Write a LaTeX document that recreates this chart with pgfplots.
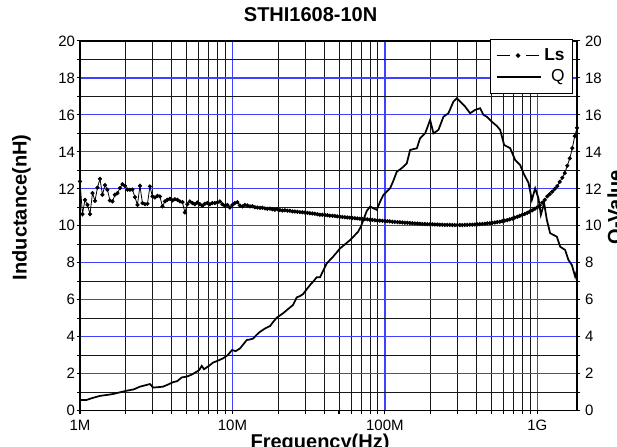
\documentclass[border=0pt]{standalone}
\usepackage{pgfplots}
\pgfplotsset{compat=1.18}
\usepackage{pgfplotstable}
\usepackage{fontspec}
\setmainfont{Liberation Sans}

\definecolor{gridblue}{RGB}{64,64,255}

% frequency in MHz, inductance in nH
\pgfplotstableread{
f L
1.000 12.40
1.038 10.63
1.078 11.40
1.120 11.13
1.163 10.63
1.208 11.77
1.254 11.35
1.302 12.07
1.352 12.54
1.404 11.68
1.458 12.20
1.514 11.95
1.572 11.37
1.633 11.32
1.696 11.68
1.761 11.77
1.828 12.04
1.899 12.25
1.972 12.16
2.048 11.96
2.126 11.95
2.208 11.96
2.293 11.55
2.381 11.13
2.473 12.16
2.568 11.23
2.666 11.17
2.769 11.19
2.875 12.13
2.986 11.59
3.101 11.53
3.220 11.62
3.344 11.59
3.472 11.05
3.606 11.32
3.744 11.41
3.888 11.46
4.038 11.37
4.193 11.44
4.354 11.41
4.522 11.32
4.696 11.28
4.876 10.72
5.064 11.17
5.258 11.32
5.461 11.23
5.671 11.17
5.889 11.26
6.115 11.17
6.350 11.08
6.595 11.19
6.848 11.23
7.112 11.17
7.385 11.23
7.669 11.23
7.964 11.26
8.270 11.32
8.588 11.17
8.919 11.08
9.262 11.13
9.618 10.99
9.988 11.13
10.37 11.23
10.77 11.28
11.19 11.10
11.62 11.05
12.07 11.13
12.53 11.10
13.02 11.05
13.52 11.06
14.04 11.00
14.58 10.99
15.14 10.97
15.72 10.98
16.33 10.94
16.96 10.92
17.61 10.93
18.28 10.89
18.99 10.87
19.72 10.90
20.48 10.85
21.26 10.83
22.08 10.84
22.93 10.82
23.81 10.81
24.73 10.78
25.68 10.77
26.66 10.76
27.69 10.74
28.75 10.73
29.86 10.72
31.01 10.70
32.20 10.68
33.44 10.67
34.72 10.65
36.06 10.63
37.44 10.60
38.88 10.60
40.38 10.58
41.93 10.57
43.54 10.55
45.22 10.54
46.96 10.53
48.76 10.51
50.64 10.49
52.58 10.48
54.61 10.46
56.71 10.45
58.89 10.44
61.15 10.42
63.50 10.41
65.95 10.40
68.48 10.38
71.12 10.37
73.85 10.36
76.69 10.35
79.64 10.33
82.70 10.32
85.88 10.30
89.19 10.29
92.62 10.28
96.18 10.27
99.88 10.26
103.7 10.25
107.7 10.24
111.9 10.22
116.2 10.21
120.8 10.20
125.4 10.19
130.2 10.18
135.2 10.17
140.4 10.16
145.8 10.15
151.4 10.14
157.2 10.13
163.3 10.12
169.6 10.11
176.1 10.10
182.8 10.10
189.9 10.09
197.2 10.08
204.8 10.08
212.6 10.07
220.8 10.07
229.3 10.06
238.1 10.06
247.3 10.05
256.8 10.05
266.6 10.05
276.9 10.04
287.5 10.04
298.6 10.04
310.1 10.04
322.0 10.04
334.4 10.05
347.2 10.05
360.6 10.06
374.4 10.06
388.8 10.07
403.8 10.08
419.3 10.09
435.4 10.10
452.2 10.11
469.6 10.13
487.6 10.14
506.4 10.16
525.8 10.18
546.1 10.20
567.1 10.22
588.9 10.25
611.5 10.28
635.0 10.31
659.5 10.35
684.8 10.39
711.2 10.44
738.5 10.49
766.9 10.54
796.4 10.59
827.0 10.64
858.8 10.70
891.9 10.77
926.2 10.84
961.8 10.92
998.8 11.00
1037 11.10
1077 11.25
1119 11.40
1162 11.60
1206 11.72
1253 11.85
1301 12.00
1351 12.15
1403 12.38
1457 12.60
1513 12.85
1571 13.25
1632 13.65
1695 14.20
1760 14.85
1820 15.30
}\lsdata

% frequency in MHz, Q value
\pgfplotstableread{
f Q
1.000 0.58
1.106 0.58
1.200 0.68
1.353 0.80
1.500 0.85
1.646 0.90
1.800 0.98
2.025 1.08
2.250 1.15
2.476 1.30
2.700 1.38
2.880 1.44
3.013 1.25
3.250 1.27
3.504 1.30
3.800 1.42
4.076 1.54
4.350 1.60
4.648 1.80
5.013 1.84
5.400 1.95
5.832 2.11
6.050 2.20
6.289 2.42
6.510 2.24
7.000 2.42
7.459 2.60
8.000 2.70
8.677 2.83
9.300 3.00
9.940 3.28
10.50 3.22
11.22 3.37
12.41 3.82
13.00 3.85
13.65 3.90
14.40 4.10
15.18 4.27
16.40 4.45
17.65 4.58
18.50 4.80
19.53 5.03
21.48 5.27
23.20 5.50
24.98 5.72
26.42 6.13
27.77 6.20
29.07 6.31
30.60 6.55
32.30 6.80
34.00 7.00
35.74 7.22
37.57 7.22
39.50 7.60
41.57 7.97
43.60 8.15
45.73 8.33
48.20 8.55
50.82 8.78
54.80 9.00
59.12 9.23
62.80 9.45
66.71 9.68
69.50 9.95
72.27 10.32
76.00 10.80
79.97 11.04
84.00 10.95
88.48 10.86
92.90 11.30
97.77 11.67
102.8 11.85
108.2 12.03
113.8 12.45
119.7 12.93
125.8 13.05
132.3 13.20
139.2 13.38
146.3 14.10
154.0 14.15
162.0 14.19
170.2 14.74
183.6 15.00
190.5 15.35
198.0 15.73
208.2 15.00
224.5 15.19
242.1 15.90
261.0 16.09
281.5 16.72
296.3 16.90
311.4 16.72
335.9 16.45
362.2 16.09
390.7 16.27
421.3 16.36
443.0 16.00
466.3 15.90
502.9 15.63
542.4 15.40
570.1 15.19
605.6 14.37
663.1 14.20
715.0 13.56
771.3 13.29
810.7 12.84
874.3 12.33
920.3 11.40
967.3 12.03
1017 11.49
1054 10.59
1108 11.22
1154 10.32
1213 9.60
1343 9.41
1411 8.87
1522 8.69
1600 8.15
1684 7.88
1770 7.25
1820 7.60
}\qdata

\begin{document}
\begin{tikzpicture}
\begin{axis}[
  scale only axis, width=372.75pt, height=277.3pt,
  xmode=log, xmin=1, xmax=1820, ymin=0, ymax=20,
  ytick={0,2,...,20}, minor ytick={1,3,...,19},
  tick align=outside,
  major tick length=2.5pt, minor tick length=2.5pt,
  tick style={black, line width=0.8pt},
  axis line style={line width=1.1pt},
  /pgf/number format/assume math mode=true,
  tick label style={font=\fontsize{11.25}{13}\selectfont},
  xtick={1,10,100,1000}, xticklabels={1M,10M,100M,1G},
  minor xtick={2,3,4,5,6,7,8,9,20,30,40,50,60,70,80,90,200,300,400,500,600,700,800,900},
  ytick pos=left, xtick pos=bottom,
  xticklabel style={inner sep=0pt, yshift=-4.5pt},
  yticklabel style={inner sep=1pt},
  grid=both,
  major grid style={gridblue, line width=0.9pt},
  minor grid style={black!90, line width=0.75pt},
  title={STHI1608-10N},
  title style={at={(0.464,1.0317)}, anchor=base, font=\bfseries\fontsize{15}{18}\selectfont},
  xlabel={Frequency(Hz)},
  xlabel style={at={(rel axis cs:0.483,-0.103)}, anchor=base, font=\bfseries\fontsize{15}{18}\selectfont},
  ylabel={Inductance(nH)},
  ylabel style={at={(rel axis cs:-0.1178,0.55)}, anchor=center, font=\bfseries\fontsize{15}{18}\selectfont},
  legend cell align=right,
  legend style={at={(0.992,1.006)}, anchor=north east, draw=black, line width=0.8pt, fill=white,
    font=\fontsize{13}{15}\selectfont, inner xsep=4pt, inner ysep=5pt, row sep=1.5pt},
]
\addplot[black, line width=0.6pt, mark=*, mark size=1.25pt,
  legend image code/.code={
    \draw[line width=0.8pt] (0pt,0pt) -- (10pt,0pt);
    \fill (16pt,0pt) circle (1.4pt);
    \draw[line width=0.8pt] (22pt,0pt) -- (32pt,0pt);
  }] table[x=f, y=L] {\lsdata};
\addlegendentry{\textbf{Ls}}
\addlegendimage{black, line width=1.3pt,
  legend image code/.code={\draw[line width=1.3pt] (0pt,0pt) -- (33pt,0pt);}}
\addlegendentry{Q}
\end{axis}

\begin{axis}[
  scale only axis, width=372.75pt, height=277.3pt,
  xmode=log, xmin=1, xmax=1820, ymin=0, ymax=20,
  ytick={0,2,...,20}, minor ytick={1,3,...,19},
  tick align=outside,
  major tick length=2.5pt, minor tick length=2.5pt,
  tick style={black, line width=0.8pt},
  axis line style={line width=1.1pt},
  /pgf/number format/assume math mode=true,
  tick label style={font=\fontsize{11.25}{13}\selectfont},
  axis x line=none, axis y line*=right,
  ylabel={Q-Value},
  ylabel style={at={(rel axis cs:1.0905,0.55)}, anchor=base, font=\bfseries\fontsize{15}{18}\selectfont},
]
\addplot[black, line width=1.3pt] table[x=f, y=Q] {\qdata};
\end{axis}

\pgfresetboundingbox
\path[use as bounding box] (-60pt,-26.5pt) rectangle (402.75pt,308pt);
\end{tikzpicture}
\end{document}
